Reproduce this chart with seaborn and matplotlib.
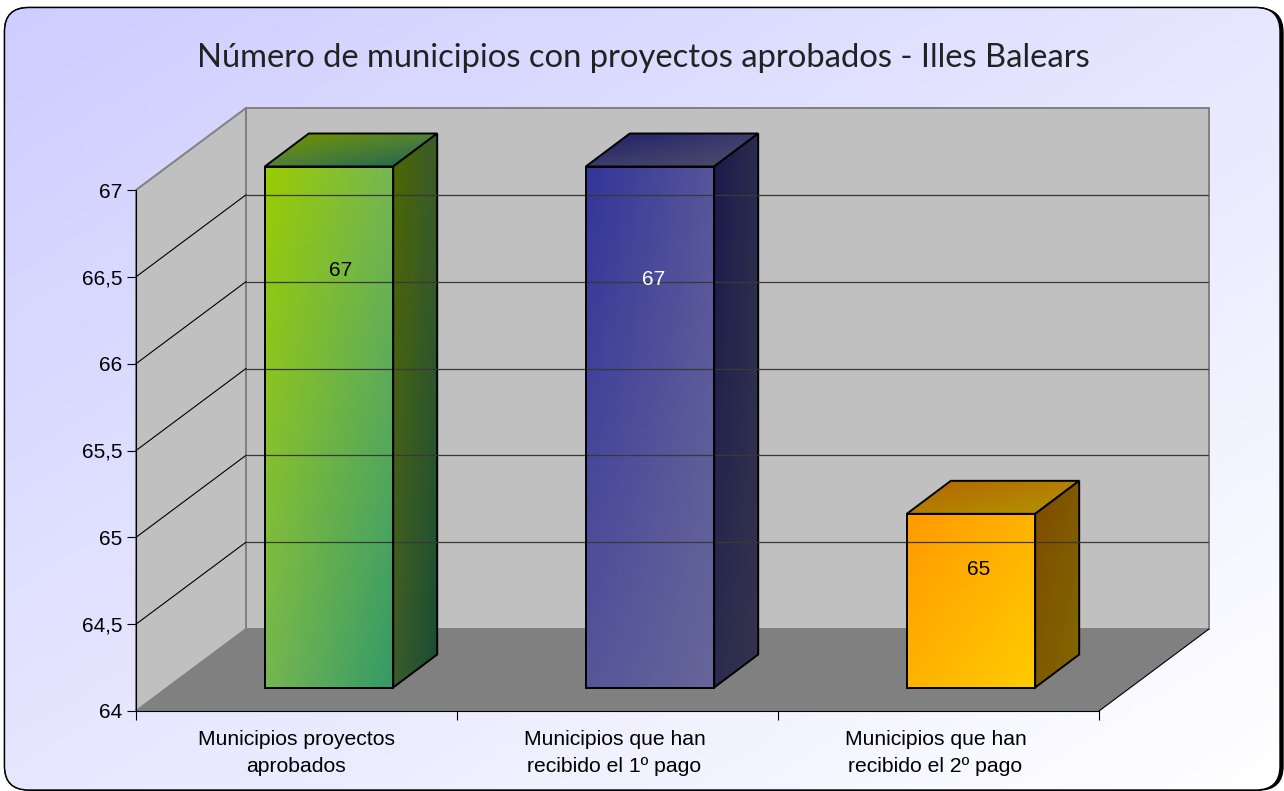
#Plot municipios chart, 3D look bars on flat axes
import numpy as np
import matplotlib
matplotlib.use('Agg')
import matplotlib.pyplot as plt
from matplotlib.patches import FancyBboxPatch, Polygon
from matplotlib.ticker import FuncFormatter, FixedLocator
from matplotlib.transforms import Affine2D
import seaborn as sns

#Data
title = 'Número de municipios con proyectos aprobados - Illes Balears'
categories = ['Municipios proyectos\naprobados',
              'Municipios que han\nrecibido el 1º pago',
              'Municipios que han\nrecibido el 2º pago']
values = [67, 67, 65]
yticks = [64, 64.5, 65, 65.5, 66, 66.5, 67]

#Styles
colors_start = ['#99cc00', '#333399', '#ff9900']
colors_end = ['#339966', '#666699', '#ffcc00']
colors_mid = ['#76b652', '#55559a', '#ffb200']    #gradient colour at the two off corners
label_colors = ['black', 'white', 'black']
label_y = [66.40, 66.35, 64.68]
label_dx = [0.035, 0.01, 0.025]
xlabel_dx = [-0.5, -3, -3]

W, H = 1284, 791
ymin, ymax = 64, 67
depth_x, depth_y = 110, 82   #wall depth in pixels
bar_dx, bar_dy = 32.5, 23.5  #front of the bars sits inside the box
side_x, side_y = 44, 33      #bar depth

sns.set_style('white')
plt.rcParams['font.family'] = ['Liberation Sans', 'DejaVu Sans']

fig = plt.figure(figsize=(W / 100, H / 100), dpi=100, facecolor='white')

#Pixel axes for background, walls and bar faces
bg = fig.add_axes([0, 0, 1, 1], zorder=0)
bg.set_xlim(0, W)
bg.set_ylim(H, 0)
bg.axis('off')

ax = fig.add_axes([136 / W, (H - 711) / H, 963 / W, 521 / H], zorder=1)
ax.patch.set_alpha(0)


def hex2rgb(c):
    return np.array(matplotlib.colors.to_rgb(c))


def quad(pts, c00, c10, c11, c01, n=60, **kw):
    #pts order: top-left, top-right, bottom-right, bottom-left; colours the same
    u, v = np.meshgrid(np.linspace(0, 1, n + 1), np.linspace(0, 1, n + 1))
    p = np.array(pts, dtype=float)
    X = (1-u)*(1-v)*p[0, 0] + u*(1-v)*p[1, 0] + u*v*p[2, 0] + (1-u)*v*p[3, 0]
    Y = (1-u)*(1-v)*p[0, 1] + u*(1-v)*p[1, 1] + u*v*p[2, 1] + (1-u)*v*p[3, 1]
    uc = (u[:-1, :-1] + u[1:, 1:])[..., None] / 2
    vc = (v[:-1, :-1] + v[1:, 1:])[..., None] / 2
    C = (1-uc)*(1-vc)*c00 + uc*(1-vc)*c10 + uc*vc*c11 + (1-uc)*vc*c01
    C = np.clip(C, 0, 1)
    return bg.pcolormesh(X, Y, C, shading='flat', edgecolors='none', antialiased=False, **kw)


def to_px(x, y):
    dx, dy = ax.transData.transform((x, y))
    return dx, H - dy


#Bars through seaborn, only the outline of the front face is kept
sns.barplot(x=categories, y=values, color='white', width=0.4, errorbar=None, ax=ax)
ax.set_xlim(-0.5, 2.5)
ax.set_ylim(ymin, ymax)

#Background with rounded frame, black edge thicker on the right
box = dict(boxstyle='round,pad=0,rounding_size=24')
bg.add_patch(FancyBboxPatch((7, 8.5), 1276, 781.5, fc='black', ec='black', lw=1, **box))
frame = FancyBboxPatch((4.5, 7.5), 1275.5, 782.5, fc='none', ec='black', lw=1, **box)
bg.add_patch(frame)
mesh = quad([(0, 0), (W, 0), (W, H), (0, H)], hex2rgb('#ccccff'), hex2rgb('#e6e6ff'),
            hex2rgb('#ffffff'), hex2rgb('#e6e6ff'), n=120)
mesh.set_clip_path(frame)
bg.add_patch(FancyBboxPatch((4.5, 7.5), 1275.5, 782.5, fc='none', ec='black', lw=1, **box))

#Walls and floor
x0, y_low = to_px(-0.5, ymin)
x1, y_top = to_px(2.5, ymax)
wall_ec = '#808080'
bg.add_patch(Polygon([(x0, y_top), (x0 + depth_x, y_top - depth_y), (x0 + depth_x, y_low - depth_y), (x0, y_low)],
                     fc='#c0c0c0', ec=wall_ec, lw=1.4))
bg.add_patch(Polygon([(x0 + depth_x, y_top - depth_y), (x1 + depth_x, y_top - depth_y),
                      (x1 + depth_x, y_low - depth_y), (x0 + depth_x, y_low - depth_y)],
                     fc='#c0c0c0', ec=wall_ec, lw=1.4))
bg.add_patch(Polygon([(x0, y_low), (x0 + depth_x, y_low - depth_y), (x1 + depth_x, y_low - depth_y), (x1, y_low)],
                     fc='#808080', ec='none'))
bg.plot([x1, x1 + depth_x], [y_low, y_low - depth_y], color='black', lw=0.8)

#Grid lines on both walls
for t in yticks[1:-1]:
    _, yp = to_px(0, t)
    bg.plot([x0, x0 + depth_x], [yp, yp - depth_y], color='black', lw=0.8)
    bg.plot([x0 + depth_x, x1 + depth_x - 1], [yp - depth_y, yp - depth_y], color='#383838', lw=0.9)

#Bar faces
shift = Affine2D().translate(bar_dx, bar_dy)
for i, p in enumerate(ax.patches):
    p.set_y(ymin)
    p.set_height(values[i] - ymin)
    p.set_transform(ax.transData + shift)
    p.set_facecolor('none')
    p.set_edgecolor('black')
    p.set_linewidth(1.4)
    p.set_clip_on(False)

    xa, ya = to_px(p.get_x(), ymin)
    xb, yb = to_px(p.get_x() + p.get_width(), values[i])
    xa, xb = xa + bar_dx, xb + bar_dx
    ya, yb = ya - bar_dy, yb - bar_dy

    c0 = hex2rgb(colors_start[i])
    c1 = hex2rgb(colors_end[i])
    mid = hex2rgb(colors_mid[i])

    quad([(xa, yb), (xb, yb), (xb, ya), (xa, ya)], c0, mid, c1, mid)

    #top face
    top = [(xa + side_x, yb - side_y), (xb + side_x, yb - side_y), (xb, yb), (xa, yb)]
    quad(top, c0 * 0.7, mid * 0.7, c1 * 0.7, mid * 0.7)
    bg.add_patch(Polygon(top, fc='none', ec='black', lw=1.4))

    #right side face
    side = [(xb, yb), (xb + side_x, yb - side_y), (xb + side_x, ya - side_y), (xb, ya)]
    quad(side, c0 * 0.5, mid * 0.5, c1 * 0.5, mid * 0.5)
    bg.add_patch(Polygon(side, fc='none', ec='black', lw=1.4))

    ax.text(i + label_dx[i], label_y[i], str(values[i]), transform=ax.transData + shift,
            ha='center', va='center', fontsize=15, color=label_colors[i])

#Axes lines and ticks
for s in ['top', 'right']:
    ax.spines[s].set_visible(False)
for s in ['left', 'bottom']:
    ax.spines[s].set_visible(True)
    ax.spines[s].set_color('black')
    ax.spines[s].set_linewidth(0.8)

ax.yaxis.set_major_locator(FixedLocator(yticks))
ax.yaxis.set_major_formatter(FuncFormatter(lambda v, pos: f'{v:g}'.replace('.', ',')))
ax.tick_params(axis='y', which='major', left=True, length=6.5, width=0.8, color='black',
               pad=3.5, labelsize=15, labelcolor='black')
ax.xaxis.set_minor_locator(FixedLocator([-0.5, 0.5, 1.5, 2.5]))
ax.tick_params(axis='x', which='minor', bottom=True, length=6.5, width=0.8, color='black')
ax.tick_params(axis='x', which='major', bottom=False, length=0, pad=13.8, labelsize=15.2, labelcolor='black')
for lab, d in zip(ax.get_xticklabels(), xlabel_dx):
    lab.set_linespacing(1.5)
    lab.set_transform(lab.get_transform() + Affine2D().translate(d, 0))
ax.set_xlabel('')
ax.set_ylabel('')

#Title
fig.text(643.5 / W, 1 - 58 / H, title, ha='center', va='center', fontsize=23.55,
         color='#222222', family=['Lato', 'DejaVu Sans'])

bg.set_xlim(0, W)
bg.set_ylim(H, 0)
plt.savefig('out.png', dpi=100)
